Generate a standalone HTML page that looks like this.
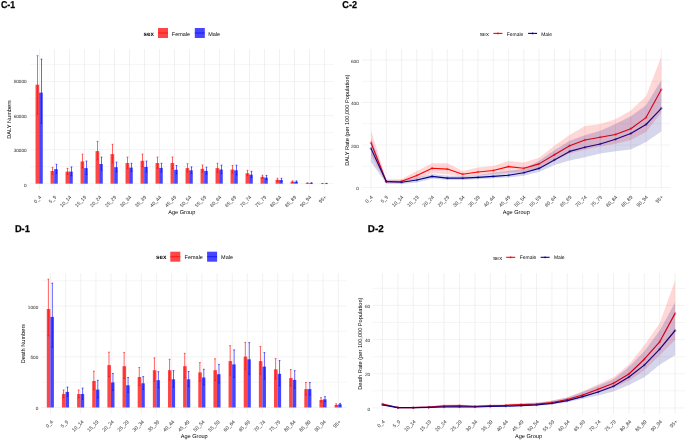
<!DOCTYPE html>
<html><head><meta charset="utf-8"><title>Age group DALY and death charts</title>
<style>
html,body{margin:0;padding:0;background:#fff;}
body{width:685px;height:440px;overflow:hidden;}
svg{display:block;will-change:transform;text-rendering:geometricPrecision;font-family:"Liberation Sans",sans-serif;}
text.s{stroke:#444;stroke-width:0.04px;}
</style></head><body>
<svg width="685" height="440" viewBox="0 0 685 440">
<rect width="685" height="440" fill="#fff"/>
<text x="0.9" y="8.0" font-size="10" font-weight="bold" fill="#000" stroke="#000" stroke-width="0.25" textLength="14.2" lengthAdjust="spacingAndGlyphs">C-1</text>
<line x1="30.2" x2="333.6" y1="166.67" y2="166.67" stroke="#f1f1f1" stroke-width="0.7"/>
<line x1="30.2" x2="333.6" y1="132.61" y2="132.61" stroke="#f1f1f1" stroke-width="0.7"/>
<line x1="30.2" x2="333.6" y1="98.55" y2="98.55" stroke="#f1f1f1" stroke-width="0.7"/>
<line x1="30.2" x2="333.6" y1="64.49" y2="64.49" stroke="#f1f1f1" stroke-width="0.7"/>
<line x1="30.2" x2="333.6" y1="183.70" y2="183.70" stroke="#f0f0f0" stroke-width="0.8"/>
<line x1="30.2" x2="333.6" y1="149.64" y2="149.64" stroke="#f0f0f0" stroke-width="0.8"/>
<line x1="30.2" x2="333.6" y1="115.58" y2="115.58" stroke="#f0f0f0" stroke-width="0.8"/>
<line x1="30.2" x2="333.6" y1="81.52" y2="81.52" stroke="#f0f0f0" stroke-width="0.8"/>
<line x1="39.50" x2="39.50" y1="49" y2="190.2" stroke="#eeeeee" stroke-width="0.8"/>
<line x1="54.50" x2="54.50" y1="49" y2="190.2" stroke="#eeeeee" stroke-width="0.8"/>
<line x1="69.50" x2="69.50" y1="49" y2="190.2" stroke="#eeeeee" stroke-width="0.8"/>
<line x1="84.50" x2="84.50" y1="49" y2="190.2" stroke="#eeeeee" stroke-width="0.8"/>
<line x1="99.50" x2="99.50" y1="49" y2="190.2" stroke="#eeeeee" stroke-width="0.8"/>
<line x1="114.50" x2="114.50" y1="49" y2="190.2" stroke="#eeeeee" stroke-width="0.8"/>
<line x1="129.50" x2="129.50" y1="49" y2="190.2" stroke="#eeeeee" stroke-width="0.8"/>
<line x1="144.50" x2="144.50" y1="49" y2="190.2" stroke="#eeeeee" stroke-width="0.8"/>
<line x1="159.50" x2="159.50" y1="49" y2="190.2" stroke="#eeeeee" stroke-width="0.8"/>
<line x1="174.50" x2="174.50" y1="49" y2="190.2" stroke="#eeeeee" stroke-width="0.8"/>
<line x1="189.50" x2="189.50" y1="49" y2="190.2" stroke="#eeeeee" stroke-width="0.8"/>
<line x1="204.50" x2="204.50" y1="49" y2="190.2" stroke="#eeeeee" stroke-width="0.8"/>
<line x1="219.50" x2="219.50" y1="49" y2="190.2" stroke="#eeeeee" stroke-width="0.8"/>
<line x1="234.50" x2="234.50" y1="49" y2="190.2" stroke="#eeeeee" stroke-width="0.8"/>
<line x1="249.50" x2="249.50" y1="49" y2="190.2" stroke="#eeeeee" stroke-width="0.8"/>
<line x1="264.50" x2="264.50" y1="49" y2="190.2" stroke="#eeeeee" stroke-width="0.8"/>
<line x1="279.50" x2="279.50" y1="49" y2="190.2" stroke="#eeeeee" stroke-width="0.8"/>
<line x1="294.50" x2="294.50" y1="49" y2="190.2" stroke="#eeeeee" stroke-width="0.8"/>
<line x1="309.50" x2="309.50" y1="49" y2="190.2" stroke="#eeeeee" stroke-width="0.8"/>
<line x1="324.50" x2="324.50" y1="49" y2="190.2" stroke="#eeeeee" stroke-width="0.8"/>
<rect x="35.53" y="84.70" width="3.62" height="99.00" fill="#ff4646"/>
<rect x="39.15" y="92.60" width="3.62" height="91.10" fill="#4646ff"/>
<rect x="50.53" y="171.00" width="3.62" height="12.70" fill="#ff4646"/>
<rect x="54.15" y="169.10" width="3.62" height="14.60" fill="#4646ff"/>
<rect x="65.53" y="171.60" width="3.62" height="12.10" fill="#ff4646"/>
<rect x="69.15" y="171.60" width="3.62" height="12.10" fill="#4646ff"/>
<rect x="80.53" y="161.40" width="3.62" height="22.30" fill="#ff4646"/>
<rect x="84.15" y="168.10" width="3.62" height="15.60" fill="#4646ff"/>
<rect x="95.53" y="151.10" width="3.62" height="32.60" fill="#ff4646"/>
<rect x="99.15" y="164.00" width="3.62" height="19.70" fill="#4646ff"/>
<rect x="110.53" y="154.10" width="3.62" height="29.60" fill="#ff4646"/>
<rect x="114.15" y="167.20" width="3.62" height="16.50" fill="#4646ff"/>
<rect x="125.53" y="163.00" width="3.62" height="20.70" fill="#ff4646"/>
<rect x="129.15" y="167.60" width="3.62" height="16.10" fill="#4646ff"/>
<rect x="140.53" y="160.80" width="3.62" height="22.90" fill="#ff4646"/>
<rect x="144.15" y="166.90" width="3.62" height="16.80" fill="#4646ff"/>
<rect x="155.53" y="163.00" width="3.62" height="20.70" fill="#ff4646"/>
<rect x="159.15" y="167.90" width="3.62" height="15.80" fill="#4646ff"/>
<rect x="170.53" y="163.00" width="3.62" height="20.70" fill="#ff4646"/>
<rect x="174.15" y="169.80" width="3.62" height="13.90" fill="#4646ff"/>
<rect x="185.53" y="168.10" width="3.62" height="15.60" fill="#ff4646"/>
<rect x="189.15" y="170.30" width="3.62" height="13.40" fill="#4646ff"/>
<rect x="200.53" y="168.80" width="3.62" height="14.90" fill="#ff4646"/>
<rect x="204.15" y="170.90" width="3.62" height="12.80" fill="#4646ff"/>
<rect x="215.53" y="168.10" width="3.62" height="15.60" fill="#ff4646"/>
<rect x="219.15" y="169.50" width="3.62" height="14.20" fill="#4646ff"/>
<rect x="230.53" y="169.50" width="3.62" height="14.20" fill="#ff4646"/>
<rect x="234.15" y="170.30" width="3.62" height="13.40" fill="#4646ff"/>
<rect x="245.53" y="173.20" width="3.62" height="10.50" fill="#ff4646"/>
<rect x="249.15" y="174.65" width="3.62" height="9.05" fill="#4646ff"/>
<rect x="260.53" y="176.80" width="3.62" height="6.90" fill="#ff4646"/>
<rect x="264.15" y="177.60" width="3.62" height="6.10" fill="#4646ff"/>
<rect x="275.53" y="179.80" width="3.62" height="3.90" fill="#ff4646"/>
<rect x="279.15" y="180.05" width="3.62" height="3.65" fill="#4646ff"/>
<rect x="290.53" y="181.70" width="3.62" height="2.00" fill="#ff4646"/>
<rect x="294.15" y="181.70" width="3.62" height="2.00" fill="#4646ff"/>
<rect x="305.53" y="183.10" width="3.62" height="0.60" fill="#ff4646"/>
<rect x="309.15" y="183.00" width="3.62" height="0.70" fill="#4646ff"/>
<rect x="320.53" y="183.50" width="3.62" height="0.20" fill="#ff4646"/>
<rect x="324.15" y="183.50" width="3.62" height="0.20" fill="#4646ff"/>
<line x1="37.50" x2="37.50" y1="55.70" y2="114.10" stroke="#ff1010" stroke-width="0.65"/>
<line x1="36.60" x2="38.40" y1="55.70" y2="55.70" stroke="#ff1010" stroke-width="0.65"/>
<line x1="36.60" x2="38.40" y1="114.10" y2="114.10" stroke="#e00000" stroke-width="0.5"/>
<line x1="41.50" x2="41.50" y1="59.10" y2="123.30" stroke="#1010ff" stroke-width="0.65"/>
<line x1="40.60" x2="42.40" y1="59.10" y2="59.10" stroke="#1010ff" stroke-width="0.65"/>
<line x1="40.60" x2="42.40" y1="123.30" y2="123.30" stroke="#0000e0" stroke-width="0.5"/>
<line x1="52.50" x2="52.50" y1="167.35" y2="174.28" stroke="#ff1010" stroke-width="0.65"/>
<line x1="51.60" x2="53.40" y1="167.35" y2="167.35" stroke="#ff1010" stroke-width="0.65"/>
<line x1="51.60" x2="53.40" y1="174.28" y2="174.28" stroke="#e00000" stroke-width="0.5"/>
<line x1="56.50" x2="56.50" y1="164.30" y2="173.42" stroke="#1010ff" stroke-width="0.65"/>
<line x1="55.60" x2="57.40" y1="164.30" y2="164.30" stroke="#1010ff" stroke-width="0.65"/>
<line x1="55.60" x2="57.40" y1="173.42" y2="173.42" stroke="#0000e0" stroke-width="0.5"/>
<line x1="67.50" x2="67.50" y1="168.40" y2="174.48" stroke="#ff1010" stroke-width="0.65"/>
<line x1="66.60" x2="68.40" y1="168.40" y2="168.40" stroke="#ff1010" stroke-width="0.65"/>
<line x1="66.60" x2="68.40" y1="174.48" y2="174.48" stroke="#e00000" stroke-width="0.5"/>
<line x1="71.50" x2="71.50" y1="166.90" y2="175.83" stroke="#1010ff" stroke-width="0.65"/>
<line x1="70.60" x2="72.40" y1="166.90" y2="166.90" stroke="#1010ff" stroke-width="0.65"/>
<line x1="70.60" x2="72.40" y1="175.83" y2="175.83" stroke="#0000e0" stroke-width="0.5"/>
<line x1="82.50" x2="82.50" y1="154.20" y2="167.88" stroke="#ff1010" stroke-width="0.65"/>
<line x1="81.60" x2="83.40" y1="154.20" y2="154.20" stroke="#ff1010" stroke-width="0.65"/>
<line x1="81.60" x2="83.40" y1="167.88" y2="167.88" stroke="#e00000" stroke-width="0.5"/>
<line x1="86.50" x2="86.50" y1="161.10" y2="174.40" stroke="#1010ff" stroke-width="0.65"/>
<line x1="85.60" x2="87.40" y1="161.10" y2="161.10" stroke="#1010ff" stroke-width="0.65"/>
<line x1="85.60" x2="87.40" y1="174.40" y2="174.40" stroke="#0000e0" stroke-width="0.5"/>
<line x1="97.50" x2="97.50" y1="141.40" y2="159.83" stroke="#ff1010" stroke-width="0.65"/>
<line x1="96.60" x2="98.40" y1="141.40" y2="141.40" stroke="#ff1010" stroke-width="0.65"/>
<line x1="96.60" x2="98.40" y1="159.83" y2="159.83" stroke="#e00000" stroke-width="0.5"/>
<line x1="101.50" x2="101.50" y1="157.10" y2="170.21" stroke="#1010ff" stroke-width="0.65"/>
<line x1="100.60" x2="102.40" y1="157.10" y2="157.10" stroke="#1010ff" stroke-width="0.65"/>
<line x1="100.60" x2="102.40" y1="170.21" y2="170.21" stroke="#0000e0" stroke-width="0.5"/>
<line x1="112.50" x2="112.50" y1="144.30" y2="162.92" stroke="#ff1010" stroke-width="0.65"/>
<line x1="111.60" x2="113.40" y1="144.30" y2="144.30" stroke="#ff1010" stroke-width="0.65"/>
<line x1="111.60" x2="113.40" y1="162.92" y2="162.92" stroke="#e00000" stroke-width="0.5"/>
<line x1="116.50" x2="116.50" y1="162.10" y2="171.79" stroke="#1010ff" stroke-width="0.65"/>
<line x1="115.60" x2="117.40" y1="162.10" y2="162.10" stroke="#1010ff" stroke-width="0.65"/>
<line x1="115.60" x2="117.40" y1="171.79" y2="171.79" stroke="#0000e0" stroke-width="0.5"/>
<line x1="127.50" x2="127.50" y1="157.10" y2="168.31" stroke="#ff1010" stroke-width="0.65"/>
<line x1="126.60" x2="128.40" y1="157.10" y2="157.10" stroke="#ff1010" stroke-width="0.65"/>
<line x1="126.60" x2="128.40" y1="168.31" y2="168.31" stroke="#e00000" stroke-width="0.5"/>
<line x1="131.50" x2="131.50" y1="163.30" y2="171.47" stroke="#1010ff" stroke-width="0.65"/>
<line x1="130.60" x2="132.40" y1="163.30" y2="163.30" stroke="#1010ff" stroke-width="0.65"/>
<line x1="130.60" x2="132.40" y1="171.47" y2="171.47" stroke="#0000e0" stroke-width="0.5"/>
<line x1="142.50" x2="142.50" y1="154.10" y2="166.83" stroke="#ff1010" stroke-width="0.65"/>
<line x1="141.60" x2="143.40" y1="154.10" y2="154.10" stroke="#ff1010" stroke-width="0.65"/>
<line x1="141.60" x2="143.40" y1="166.83" y2="166.83" stroke="#e00000" stroke-width="0.5"/>
<line x1="146.50" x2="146.50" y1="161.10" y2="172.12" stroke="#1010ff" stroke-width="0.65"/>
<line x1="145.60" x2="147.40" y1="161.10" y2="161.10" stroke="#1010ff" stroke-width="0.65"/>
<line x1="145.60" x2="147.40" y1="172.12" y2="172.12" stroke="#0000e0" stroke-width="0.5"/>
<line x1="157.50" x2="157.50" y1="157.10" y2="168.31" stroke="#ff1010" stroke-width="0.65"/>
<line x1="156.60" x2="158.40" y1="157.10" y2="157.10" stroke="#ff1010" stroke-width="0.65"/>
<line x1="156.60" x2="158.40" y1="168.31" y2="168.31" stroke="#e00000" stroke-width="0.5"/>
<line x1="161.50" x2="161.50" y1="163.30" y2="172.04" stroke="#1010ff" stroke-width="0.65"/>
<line x1="160.60" x2="162.40" y1="163.30" y2="163.30" stroke="#1010ff" stroke-width="0.65"/>
<line x1="160.60" x2="162.40" y1="172.04" y2="172.04" stroke="#0000e0" stroke-width="0.5"/>
<line x1="172.50" x2="172.50" y1="157.00" y2="168.40" stroke="#ff1010" stroke-width="0.65"/>
<line x1="171.60" x2="173.40" y1="157.00" y2="157.00" stroke="#ff1010" stroke-width="0.65"/>
<line x1="171.60" x2="173.40" y1="168.40" y2="168.40" stroke="#e00000" stroke-width="0.5"/>
<line x1="176.50" x2="176.50" y1="165.50" y2="173.67" stroke="#1010ff" stroke-width="0.65"/>
<line x1="175.60" x2="177.40" y1="165.50" y2="165.50" stroke="#1010ff" stroke-width="0.65"/>
<line x1="175.60" x2="177.40" y1="173.67" y2="173.67" stroke="#0000e0" stroke-width="0.5"/>
<line x1="187.50" x2="187.50" y1="163.70" y2="172.06" stroke="#ff1010" stroke-width="0.65"/>
<line x1="186.60" x2="188.40" y1="163.70" y2="163.70" stroke="#ff1010" stroke-width="0.65"/>
<line x1="186.60" x2="188.40" y1="172.06" y2="172.06" stroke="#e00000" stroke-width="0.5"/>
<line x1="191.50" x2="191.50" y1="166.90" y2="173.36" stroke="#1010ff" stroke-width="0.65"/>
<line x1="190.60" x2="192.40" y1="166.90" y2="166.90" stroke="#1010ff" stroke-width="0.65"/>
<line x1="190.60" x2="192.40" y1="173.36" y2="173.36" stroke="#0000e0" stroke-width="0.5"/>
<line x1="202.50" x2="202.50" y1="165.00" y2="172.22" stroke="#ff1010" stroke-width="0.65"/>
<line x1="201.60" x2="203.40" y1="165.00" y2="165.00" stroke="#ff1010" stroke-width="0.65"/>
<line x1="201.60" x2="203.40" y1="172.22" y2="172.22" stroke="#e00000" stroke-width="0.5"/>
<line x1="206.50" x2="206.50" y1="167.20" y2="174.23" stroke="#1010ff" stroke-width="0.65"/>
<line x1="205.60" x2="207.40" y1="167.20" y2="167.20" stroke="#1010ff" stroke-width="0.65"/>
<line x1="205.60" x2="207.40" y1="174.23" y2="174.23" stroke="#0000e0" stroke-width="0.5"/>
<line x1="217.50" x2="217.50" y1="163.30" y2="172.42" stroke="#ff1010" stroke-width="0.65"/>
<line x1="216.60" x2="218.40" y1="163.30" y2="163.30" stroke="#ff1010" stroke-width="0.65"/>
<line x1="216.60" x2="218.40" y1="172.42" y2="172.42" stroke="#e00000" stroke-width="0.5"/>
<line x1="221.50" x2="221.50" y1="165.20" y2="173.37" stroke="#1010ff" stroke-width="0.65"/>
<line x1="220.60" x2="222.40" y1="165.20" y2="165.20" stroke="#1010ff" stroke-width="0.65"/>
<line x1="220.60" x2="222.40" y1="173.37" y2="173.37" stroke="#0000e0" stroke-width="0.5"/>
<line x1="232.50" x2="232.50" y1="165.50" y2="173.10" stroke="#ff1010" stroke-width="0.65"/>
<line x1="231.60" x2="233.40" y1="165.50" y2="165.50" stroke="#ff1010" stroke-width="0.65"/>
<line x1="231.60" x2="233.40" y1="173.10" y2="173.10" stroke="#e00000" stroke-width="0.5"/>
<line x1="236.50" x2="236.50" y1="165.20" y2="174.89" stroke="#1010ff" stroke-width="0.65"/>
<line x1="235.60" x2="237.40" y1="165.20" y2="165.20" stroke="#1010ff" stroke-width="0.65"/>
<line x1="235.60" x2="237.40" y1="174.89" y2="174.89" stroke="#0000e0" stroke-width="0.5"/>
<line x1="247.50" x2="247.50" y1="170.30" y2="175.81" stroke="#ff1010" stroke-width="0.65"/>
<line x1="246.60" x2="248.40" y1="170.30" y2="170.30" stroke="#ff1010" stroke-width="0.65"/>
<line x1="246.60" x2="248.40" y1="175.81" y2="175.81" stroke="#e00000" stroke-width="0.5"/>
<line x1="251.50" x2="251.50" y1="171.30" y2="177.66" stroke="#1010ff" stroke-width="0.65"/>
<line x1="250.60" x2="252.40" y1="171.30" y2="171.30" stroke="#1010ff" stroke-width="0.65"/>
<line x1="250.60" x2="252.40" y1="177.66" y2="177.66" stroke="#0000e0" stroke-width="0.5"/>
<line x1="262.50" x2="262.50" y1="175.20" y2="178.24" stroke="#ff1010" stroke-width="0.65"/>
<line x1="261.60" x2="263.40" y1="175.20" y2="175.20" stroke="#ff1010" stroke-width="0.65"/>
<line x1="261.60" x2="263.40" y1="178.24" y2="178.24" stroke="#e00000" stroke-width="0.5"/>
<line x1="266.50" x2="266.50" y1="175.40" y2="179.58" stroke="#1010ff" stroke-width="0.65"/>
<line x1="265.60" x2="267.40" y1="175.40" y2="175.40" stroke="#1010ff" stroke-width="0.65"/>
<line x1="265.60" x2="267.40" y1="179.58" y2="179.58" stroke="#0000e0" stroke-width="0.5"/>
<line x1="277.50" x2="277.50" y1="178.30" y2="181.15" stroke="#ff1010" stroke-width="0.65"/>
<line x1="276.60" x2="278.40" y1="178.30" y2="178.30" stroke="#ff1010" stroke-width="0.65"/>
<line x1="276.60" x2="278.40" y1="181.15" y2="181.15" stroke="#e00000" stroke-width="0.5"/>
<line x1="281.50" x2="281.50" y1="178.30" y2="181.62" stroke="#1010ff" stroke-width="0.65"/>
<line x1="280.60" x2="282.40" y1="178.30" y2="178.30" stroke="#1010ff" stroke-width="0.65"/>
<line x1="280.60" x2="282.40" y1="181.62" y2="181.62" stroke="#0000e0" stroke-width="0.5"/>
<line x1="292.50" x2="292.50" y1="180.90" y2="182.42" stroke="#ff1010" stroke-width="0.65"/>
<line x1="291.60" x2="293.40" y1="180.90" y2="180.90" stroke="#ff1010" stroke-width="0.65"/>
<line x1="291.60" x2="293.40" y1="182.42" y2="182.42" stroke="#e00000" stroke-width="0.5"/>
<line x1="296.50" x2="296.50" y1="180.90" y2="182.42" stroke="#1010ff" stroke-width="0.65"/>
<line x1="295.60" x2="297.40" y1="180.90" y2="180.90" stroke="#1010ff" stroke-width="0.65"/>
<line x1="295.60" x2="297.40" y1="182.42" y2="182.42" stroke="#0000e0" stroke-width="0.5"/>
<line x1="307.50" x2="307.50" y1="182.80" y2="183.37" stroke="#ff1010" stroke-width="0.65"/>
<line x1="306.60" x2="308.40" y1="182.80" y2="182.80" stroke="#ff1010" stroke-width="0.65"/>
<line x1="306.60" x2="308.40" y1="183.37" y2="183.37" stroke="#e00000" stroke-width="0.5"/>
<line x1="311.50" x2="311.50" y1="182.70" y2="183.27" stroke="#1010ff" stroke-width="0.65"/>
<line x1="310.60" x2="312.40" y1="182.70" y2="182.70" stroke="#1010ff" stroke-width="0.65"/>
<line x1="310.60" x2="312.40" y1="183.27" y2="183.27" stroke="#0000e0" stroke-width="0.5"/>
<line x1="322.50" x2="322.50" y1="183.40" y2="183.59" stroke="#ff1010" stroke-width="0.65"/>
<line x1="321.60" x2="323.40" y1="183.40" y2="183.40" stroke="#ff1010" stroke-width="0.65"/>
<line x1="321.60" x2="323.40" y1="183.59" y2="183.59" stroke="#e00000" stroke-width="0.5"/>
<line x1="326.50" x2="326.50" y1="183.40" y2="183.59" stroke="#1010ff" stroke-width="0.65"/>
<line x1="325.60" x2="327.40" y1="183.40" y2="183.40" stroke="#1010ff" stroke-width="0.65"/>
<line x1="325.60" x2="327.40" y1="183.59" y2="183.59" stroke="#0000e0" stroke-width="0.5"/>
<text x="26.7" y="186.59" class="s" font-size="4.7" fill="#444444" text-anchor="end">0</text>
<text x="26.7" y="152.19" class="s" font-size="4.7" fill="#444444" text-anchor="end">30000</text>
<text x="26.7" y="117.79" class="s" font-size="4.7" fill="#444444" text-anchor="end">60000</text>
<text x="26.7" y="83.39" class="s" font-size="4.7" fill="#444444" text-anchor="end">90000</text>
<text transform="translate(39.50,195.3) rotate(-45)" class="s" font-size="5.0" fill="#444444" text-anchor="end" dominant-baseline="hanging">0_4</text>
<text transform="translate(54.50,195.3) rotate(-45)" class="s" font-size="5.0" fill="#444444" text-anchor="end" dominant-baseline="hanging">5_9</text>
<text transform="translate(69.50,195.3) rotate(-45)" class="s" font-size="5.0" fill="#444444" text-anchor="end" dominant-baseline="hanging">10_14</text>
<text transform="translate(84.50,195.3) rotate(-45)" class="s" font-size="5.0" fill="#444444" text-anchor="end" dominant-baseline="hanging">15_19</text>
<text transform="translate(99.50,195.3) rotate(-45)" class="s" font-size="5.0" fill="#444444" text-anchor="end" dominant-baseline="hanging">20_24</text>
<text transform="translate(114.50,195.3) rotate(-45)" class="s" font-size="5.0" fill="#444444" text-anchor="end" dominant-baseline="hanging">25_29</text>
<text transform="translate(129.50,195.3) rotate(-45)" class="s" font-size="5.0" fill="#444444" text-anchor="end" dominant-baseline="hanging">30_34</text>
<text transform="translate(144.50,195.3) rotate(-45)" class="s" font-size="5.0" fill="#444444" text-anchor="end" dominant-baseline="hanging">35_39</text>
<text transform="translate(159.50,195.3) rotate(-45)" class="s" font-size="5.0" fill="#444444" text-anchor="end" dominant-baseline="hanging">40_44</text>
<text transform="translate(174.50,195.3) rotate(-45)" class="s" font-size="5.0" fill="#444444" text-anchor="end" dominant-baseline="hanging">45_49</text>
<text transform="translate(189.50,195.3) rotate(-45)" class="s" font-size="5.0" fill="#444444" text-anchor="end" dominant-baseline="hanging">50_54</text>
<text transform="translate(204.50,195.3) rotate(-45)" class="s" font-size="5.0" fill="#444444" text-anchor="end" dominant-baseline="hanging">55_59</text>
<text transform="translate(219.50,195.3) rotate(-45)" class="s" font-size="5.0" fill="#444444" text-anchor="end" dominant-baseline="hanging">60_64</text>
<text transform="translate(234.50,195.3) rotate(-45)" class="s" font-size="5.0" fill="#444444" text-anchor="end" dominant-baseline="hanging">65_69</text>
<text transform="translate(249.50,195.3) rotate(-45)" class="s" font-size="5.0" fill="#444444" text-anchor="end" dominant-baseline="hanging">70_74</text>
<text transform="translate(264.50,195.3) rotate(-45)" class="s" font-size="5.0" fill="#444444" text-anchor="end" dominant-baseline="hanging">75_79</text>
<text transform="translate(279.50,195.3) rotate(-45)" class="s" font-size="5.0" fill="#444444" text-anchor="end" dominant-baseline="hanging">80_84</text>
<text transform="translate(294.50,195.3) rotate(-45)" class="s" font-size="5.0" fill="#444444" text-anchor="end" dominant-baseline="hanging">85_89</text>
<text transform="translate(309.50,195.3) rotate(-45)" class="s" font-size="5.0" fill="#444444" text-anchor="end" dominant-baseline="hanging">90_94</text>
<text transform="translate(324.50,195.3) rotate(-45)" class="s" font-size="5.0" fill="#444444" text-anchor="end" dominant-baseline="hanging">95+</text>
<text transform="translate(11.3,119.5) rotate(-90)" class="t" font-size="5.65" fill="#0a0a0a" text-anchor="middle">DALY Numbers</text>
<text x="181.8" y="213.9" class="t" font-size="5.6" fill="#0a0a0a" text-anchor="middle">Age Group</text>
<text x="143.6" y="35.68" font-size="6.2" font-weight="bold" fill="#0a0a0a">sex</text>
<rect x="158" y="28" width="10" height="10" fill="#ff4646"/>
<line x1="158" x2="168" y1="33" y2="33" stroke="#f01010" stroke-width="0.8"/>
<text x="171.8" y="35.68" font-size="5.5" fill="#0a0a0a">Female</text>
<rect x="194.8" y="28" width="10" height="10" fill="#4646ff"/>
<line x1="194.8" x2="204.8" y1="33" y2="33" stroke="#1010f0" stroke-width="0.8"/>
<text x="208.2" y="35.68" font-size="5.5" fill="#0a0a0a">Male</text>
<text x="342.3" y="8.0" font-size="10" font-weight="bold" fill="#000" stroke="#000" stroke-width="0.25" textLength="14.7" lengthAdjust="spacingAndGlyphs">C-2</text>
<line x1="362" x2="670.6" y1="166.21" y2="166.21" stroke="#f1f1f1" stroke-width="0.7"/>
<line x1="362" x2="670.6" y1="123.73" y2="123.73" stroke="#f1f1f1" stroke-width="0.7"/>
<line x1="362" x2="670.6" y1="81.25" y2="81.25" stroke="#f1f1f1" stroke-width="0.7"/>
<line x1="362" x2="670.6" y1="187.45" y2="187.45" stroke="#f0f0f0" stroke-width="0.8"/>
<line x1="362" x2="670.6" y1="144.97" y2="144.97" stroke="#f0f0f0" stroke-width="0.8"/>
<line x1="362" x2="670.6" y1="102.49" y2="102.49" stroke="#f0f0f0" stroke-width="0.8"/>
<line x1="362" x2="670.6" y1="60.01" y2="60.01" stroke="#f0f0f0" stroke-width="0.8"/>
<line x1="371.00" x2="371.00" y1="49" y2="189.9" stroke="#eeeeee" stroke-width="0.8"/>
<line x1="386.28" x2="386.28" y1="49" y2="189.9" stroke="#eeeeee" stroke-width="0.8"/>
<line x1="401.56" x2="401.56" y1="49" y2="189.9" stroke="#eeeeee" stroke-width="0.8"/>
<line x1="416.84" x2="416.84" y1="49" y2="189.9" stroke="#eeeeee" stroke-width="0.8"/>
<line x1="432.12" x2="432.12" y1="49" y2="189.9" stroke="#eeeeee" stroke-width="0.8"/>
<line x1="447.40" x2="447.40" y1="49" y2="189.9" stroke="#eeeeee" stroke-width="0.8"/>
<line x1="462.68" x2="462.68" y1="49" y2="189.9" stroke="#eeeeee" stroke-width="0.8"/>
<line x1="477.96" x2="477.96" y1="49" y2="189.9" stroke="#eeeeee" stroke-width="0.8"/>
<line x1="493.24" x2="493.24" y1="49" y2="189.9" stroke="#eeeeee" stroke-width="0.8"/>
<line x1="508.52" x2="508.52" y1="49" y2="189.9" stroke="#eeeeee" stroke-width="0.8"/>
<line x1="523.80" x2="523.80" y1="49" y2="189.9" stroke="#eeeeee" stroke-width="0.8"/>
<line x1="539.08" x2="539.08" y1="49" y2="189.9" stroke="#eeeeee" stroke-width="0.8"/>
<line x1="554.36" x2="554.36" y1="49" y2="189.9" stroke="#eeeeee" stroke-width="0.8"/>
<line x1="569.64" x2="569.64" y1="49" y2="189.9" stroke="#eeeeee" stroke-width="0.8"/>
<line x1="584.92" x2="584.92" y1="49" y2="189.9" stroke="#eeeeee" stroke-width="0.8"/>
<line x1="600.20" x2="600.20" y1="49" y2="189.9" stroke="#eeeeee" stroke-width="0.8"/>
<line x1="615.48" x2="615.48" y1="49" y2="189.9" stroke="#eeeeee" stroke-width="0.8"/>
<line x1="630.76" x2="630.76" y1="49" y2="189.9" stroke="#eeeeee" stroke-width="0.8"/>
<line x1="646.04" x2="646.04" y1="49" y2="189.9" stroke="#eeeeee" stroke-width="0.8"/>
<line x1="661.32" x2="661.32" y1="49" y2="189.9" stroke="#eeeeee" stroke-width="0.8"/>
<polyline points="371.00,142.80 386.28,181.50 401.56,181.20 416.84,175.60 432.12,168.30 447.40,169.10 462.68,174.20 477.96,172.00 493.24,170.50 508.52,166.60 523.80,168.20 539.08,163.90 554.36,154.80 569.64,145.70 584.92,140.00 600.20,137.30 615.48,134.50 630.76,128.70 646.04,117.60 661.32,89.50" fill="none" stroke="#ff0000" stroke-width="1.1" stroke-linejoin="round"/>
<polyline points="371.00,148.60 386.28,181.60 401.56,182.30 416.84,180.00 432.12,176.40 447.40,178.10 462.68,178.10 477.96,177.40 493.24,176.40 508.52,175.20 523.80,172.80 539.08,168.40 554.36,160.00 569.64,151.40 584.92,147.30 600.20,144.00 615.48,139.30 630.76,133.50 646.04,124.50 661.32,108.30" fill="none" stroke="#00008b" stroke-width="1.1" stroke-linejoin="round"/>
<polygon points="371.00,130.40 386.28,179.50 401.56,179.00 416.84,171.00 432.12,163.20 447.40,163.20 462.68,171.00 477.96,167.60 493.24,166.10 508.52,161.00 523.80,162.60 539.08,157.70 554.36,145.70 569.64,135.00 584.92,125.90 600.20,124.10 615.48,119.30 630.76,110.40 646.04,96.20 661.32,56.50 661.32,112.60 646.04,132.00 630.76,140.10 615.48,143.80 600.20,146.60 584.92,149.80 569.64,153.60 554.36,160.80 539.08,168.20 523.80,172.60 508.52,172.40 493.24,174.10 477.96,175.60 462.68,176.80 447.40,174.20 432.12,173.20 416.84,178.70 401.56,183.00 386.28,183.50 371.00,155.00" fill="rgba(255,0,0,0.155)"/>
<polygon points="371.00,138.40 386.28,179.80 401.56,180.50 416.84,177.50 432.12,173.90 447.40,175.60 462.68,175.90 477.96,175.30 493.24,172.80 508.52,170.80 523.80,169.00 539.08,160.80 554.36,150.20 569.64,140.70 584.92,135.20 600.20,130.80 615.48,124.00 630.76,116.30 646.04,105.20 661.32,80.20 661.32,131.40 646.04,142.00 630.76,149.50 615.48,151.20 600.20,153.50 584.92,157.20 569.64,160.60 554.36,165.00 539.08,172.00 523.80,175.70 508.52,177.50 493.24,178.20 477.96,179.30 462.68,180.00 447.40,180.00 432.12,178.80 416.84,182.50 401.56,184.00 386.28,183.50 371.00,162.00" fill="rgba(0,0,139,0.165)"/>
<circle cx="371.00" cy="142.80" r="1.0" fill="#ff0000" fill-opacity="0.3" stroke="#ff0000" stroke-width="0.45" stroke-opacity="0.55"/>
<circle cx="386.28" cy="181.50" r="1.0" fill="#ff0000" fill-opacity="0.3" stroke="#ff0000" stroke-width="0.45" stroke-opacity="0.55"/>
<circle cx="401.56" cy="181.20" r="1.0" fill="#ff0000" fill-opacity="0.3" stroke="#ff0000" stroke-width="0.45" stroke-opacity="0.55"/>
<circle cx="416.84" cy="175.60" r="1.0" fill="#ff0000" fill-opacity="0.3" stroke="#ff0000" stroke-width="0.45" stroke-opacity="0.55"/>
<circle cx="432.12" cy="168.30" r="1.0" fill="#ff0000" fill-opacity="0.3" stroke="#ff0000" stroke-width="0.45" stroke-opacity="0.55"/>
<circle cx="447.40" cy="169.10" r="1.0" fill="#ff0000" fill-opacity="0.3" stroke="#ff0000" stroke-width="0.45" stroke-opacity="0.55"/>
<circle cx="462.68" cy="174.20" r="1.0" fill="#ff0000" fill-opacity="0.3" stroke="#ff0000" stroke-width="0.45" stroke-opacity="0.55"/>
<circle cx="477.96" cy="172.00" r="1.0" fill="#ff0000" fill-opacity="0.3" stroke="#ff0000" stroke-width="0.45" stroke-opacity="0.55"/>
<circle cx="493.24" cy="170.50" r="1.0" fill="#ff0000" fill-opacity="0.3" stroke="#ff0000" stroke-width="0.45" stroke-opacity="0.55"/>
<circle cx="508.52" cy="166.60" r="1.0" fill="#ff0000" fill-opacity="0.3" stroke="#ff0000" stroke-width="0.45" stroke-opacity="0.55"/>
<circle cx="523.80" cy="168.20" r="1.0" fill="#ff0000" fill-opacity="0.3" stroke="#ff0000" stroke-width="0.45" stroke-opacity="0.55"/>
<circle cx="539.08" cy="163.90" r="1.0" fill="#ff0000" fill-opacity="0.3" stroke="#ff0000" stroke-width="0.45" stroke-opacity="0.55"/>
<circle cx="554.36" cy="154.80" r="1.0" fill="#ff0000" fill-opacity="0.3" stroke="#ff0000" stroke-width="0.45" stroke-opacity="0.55"/>
<circle cx="569.64" cy="145.70" r="1.0" fill="#ff0000" fill-opacity="0.3" stroke="#ff0000" stroke-width="0.45" stroke-opacity="0.55"/>
<circle cx="584.92" cy="140.00" r="1.0" fill="#ff0000" fill-opacity="0.3" stroke="#ff0000" stroke-width="0.45" stroke-opacity="0.55"/>
<circle cx="600.20" cy="137.30" r="1.0" fill="#ff0000" fill-opacity="0.3" stroke="#ff0000" stroke-width="0.45" stroke-opacity="0.55"/>
<circle cx="615.48" cy="134.50" r="1.0" fill="#ff0000" fill-opacity="0.3" stroke="#ff0000" stroke-width="0.45" stroke-opacity="0.55"/>
<circle cx="630.76" cy="128.70" r="1.0" fill="#ff0000" fill-opacity="0.3" stroke="#ff0000" stroke-width="0.45" stroke-opacity="0.55"/>
<circle cx="646.04" cy="117.60" r="1.0" fill="#ff0000" fill-opacity="0.3" stroke="#ff0000" stroke-width="0.45" stroke-opacity="0.55"/>
<circle cx="661.32" cy="89.50" r="1.0" fill="#ff0000" fill-opacity="0.3" stroke="#ff0000" stroke-width="0.45" stroke-opacity="0.55"/>
<circle cx="371.00" cy="148.60" r="1.0" fill="#00008b" fill-opacity="0.3" stroke="#00008b" stroke-width="0.45" stroke-opacity="0.55"/>
<circle cx="386.28" cy="181.60" r="1.0" fill="#00008b" fill-opacity="0.3" stroke="#00008b" stroke-width="0.45" stroke-opacity="0.55"/>
<circle cx="401.56" cy="182.30" r="1.0" fill="#00008b" fill-opacity="0.3" stroke="#00008b" stroke-width="0.45" stroke-opacity="0.55"/>
<circle cx="416.84" cy="180.00" r="1.0" fill="#00008b" fill-opacity="0.3" stroke="#00008b" stroke-width="0.45" stroke-opacity="0.55"/>
<circle cx="432.12" cy="176.40" r="1.0" fill="#00008b" fill-opacity="0.3" stroke="#00008b" stroke-width="0.45" stroke-opacity="0.55"/>
<circle cx="447.40" cy="178.10" r="1.0" fill="#00008b" fill-opacity="0.3" stroke="#00008b" stroke-width="0.45" stroke-opacity="0.55"/>
<circle cx="462.68" cy="178.10" r="1.0" fill="#00008b" fill-opacity="0.3" stroke="#00008b" stroke-width="0.45" stroke-opacity="0.55"/>
<circle cx="477.96" cy="177.40" r="1.0" fill="#00008b" fill-opacity="0.3" stroke="#00008b" stroke-width="0.45" stroke-opacity="0.55"/>
<circle cx="493.24" cy="176.40" r="1.0" fill="#00008b" fill-opacity="0.3" stroke="#00008b" stroke-width="0.45" stroke-opacity="0.55"/>
<circle cx="508.52" cy="175.20" r="1.0" fill="#00008b" fill-opacity="0.3" stroke="#00008b" stroke-width="0.45" stroke-opacity="0.55"/>
<circle cx="523.80" cy="172.80" r="1.0" fill="#00008b" fill-opacity="0.3" stroke="#00008b" stroke-width="0.45" stroke-opacity="0.55"/>
<circle cx="539.08" cy="168.40" r="1.0" fill="#00008b" fill-opacity="0.3" stroke="#00008b" stroke-width="0.45" stroke-opacity="0.55"/>
<circle cx="554.36" cy="160.00" r="1.0" fill="#00008b" fill-opacity="0.3" stroke="#00008b" stroke-width="0.45" stroke-opacity="0.55"/>
<circle cx="569.64" cy="151.40" r="1.0" fill="#00008b" fill-opacity="0.3" stroke="#00008b" stroke-width="0.45" stroke-opacity="0.55"/>
<circle cx="584.92" cy="147.30" r="1.0" fill="#00008b" fill-opacity="0.3" stroke="#00008b" stroke-width="0.45" stroke-opacity="0.55"/>
<circle cx="600.20" cy="144.00" r="1.0" fill="#00008b" fill-opacity="0.3" stroke="#00008b" stroke-width="0.45" stroke-opacity="0.55"/>
<circle cx="615.48" cy="139.30" r="1.0" fill="#00008b" fill-opacity="0.3" stroke="#00008b" stroke-width="0.45" stroke-opacity="0.55"/>
<circle cx="630.76" cy="133.50" r="1.0" fill="#00008b" fill-opacity="0.3" stroke="#00008b" stroke-width="0.45" stroke-opacity="0.55"/>
<circle cx="646.04" cy="124.50" r="1.0" fill="#00008b" fill-opacity="0.3" stroke="#00008b" stroke-width="0.45" stroke-opacity="0.55"/>
<circle cx="661.32" cy="108.30" r="1.0" fill="#00008b" fill-opacity="0.3" stroke="#00008b" stroke-width="0.45" stroke-opacity="0.55"/>
<text x="358.8" y="190.09" class="s" font-size="4.7" fill="#444444" text-anchor="end">0</text>
<text x="358.8" y="147.69" class="s" font-size="4.7" fill="#444444" text-anchor="end">200</text>
<text x="358.8" y="105.29" class="s" font-size="4.7" fill="#444444" text-anchor="end">400</text>
<text x="358.8" y="62.89" class="s" font-size="4.7" fill="#444444" text-anchor="end">600</text>
<text transform="translate(371.00,195.2) rotate(-45)" class="s" font-size="5.0" fill="#444444" text-anchor="end" dominant-baseline="hanging">0_4</text>
<text transform="translate(386.28,195.2) rotate(-45)" class="s" font-size="5.0" fill="#444444" text-anchor="end" dominant-baseline="hanging">5_9</text>
<text transform="translate(401.56,195.2) rotate(-45)" class="s" font-size="5.0" fill="#444444" text-anchor="end" dominant-baseline="hanging">10_14</text>
<text transform="translate(416.84,195.2) rotate(-45)" class="s" font-size="5.0" fill="#444444" text-anchor="end" dominant-baseline="hanging">15_19</text>
<text transform="translate(432.12,195.2) rotate(-45)" class="s" font-size="5.0" fill="#444444" text-anchor="end" dominant-baseline="hanging">20_24</text>
<text transform="translate(447.40,195.2) rotate(-45)" class="s" font-size="5.0" fill="#444444" text-anchor="end" dominant-baseline="hanging">25_29</text>
<text transform="translate(462.68,195.2) rotate(-45)" class="s" font-size="5.0" fill="#444444" text-anchor="end" dominant-baseline="hanging">30_34</text>
<text transform="translate(477.96,195.2) rotate(-45)" class="s" font-size="5.0" fill="#444444" text-anchor="end" dominant-baseline="hanging">35_39</text>
<text transform="translate(493.24,195.2) rotate(-45)" class="s" font-size="5.0" fill="#444444" text-anchor="end" dominant-baseline="hanging">40_44</text>
<text transform="translate(508.52,195.2) rotate(-45)" class="s" font-size="5.0" fill="#444444" text-anchor="end" dominant-baseline="hanging">45_49</text>
<text transform="translate(523.80,195.2) rotate(-45)" class="s" font-size="5.0" fill="#444444" text-anchor="end" dominant-baseline="hanging">50_54</text>
<text transform="translate(539.08,195.2) rotate(-45)" class="s" font-size="5.0" fill="#444444" text-anchor="end" dominant-baseline="hanging">55_59</text>
<text transform="translate(554.36,195.2) rotate(-45)" class="s" font-size="5.0" fill="#444444" text-anchor="end" dominant-baseline="hanging">60_64</text>
<text transform="translate(569.64,195.2) rotate(-45)" class="s" font-size="5.0" fill="#444444" text-anchor="end" dominant-baseline="hanging">65_69</text>
<text transform="translate(584.92,195.2) rotate(-45)" class="s" font-size="5.0" fill="#444444" text-anchor="end" dominant-baseline="hanging">70_74</text>
<text transform="translate(600.20,195.2) rotate(-45)" class="s" font-size="5.0" fill="#444444" text-anchor="end" dominant-baseline="hanging">75_79</text>
<text transform="translate(615.48,195.2) rotate(-45)" class="s" font-size="5.0" fill="#444444" text-anchor="end" dominant-baseline="hanging">80_84</text>
<text transform="translate(630.76,195.2) rotate(-45)" class="s" font-size="5.0" fill="#444444" text-anchor="end" dominant-baseline="hanging">85_89</text>
<text transform="translate(646.04,195.2) rotate(-45)" class="s" font-size="5.0" fill="#444444" text-anchor="end" dominant-baseline="hanging">90_94</text>
<text transform="translate(661.32,195.2) rotate(-45)" class="s" font-size="5.0" fill="#444444" text-anchor="end" dominant-baseline="hanging">95+</text>
<text transform="translate(349.3,120.2) rotate(-90)" class="t" font-size="5.65" fill="#0a0a0a" text-anchor="middle">DALY Rate (per 100,000 Population)</text>
<text x="516.3" y="213.9" class="t" font-size="5.6" fill="#0a0a0a" text-anchor="middle">Age Group</text>
<text x="479.9" y="35.78" font-size="5.8" fill="#0a0a0a">sex</text>
<line x1="493.4" x2="502.4" y1="33.4" y2="33.4" stroke="#ff0000" stroke-width="1.1"/>
<circle cx="497.9" cy="33.4" r="0.9" fill="#ff0000"/>
<text x="506.8" y="35.58" font-size="4.95" fill="#0a0a0a">Female</text>
<line x1="528.1" x2="537.1" y1="33.4" y2="33.4" stroke="#00008b" stroke-width="1.1"/>
<circle cx="532.6" cy="33.4" r="0.9" fill="#00008b"/>
<text x="541.2" y="35.58" font-size="4.95" fill="#0a0a0a">Male</text>
<text x="14.9" y="232.1" font-size="10" font-weight="bold" fill="#000" stroke="#000" stroke-width="0.25" textLength="15.0" lengthAdjust="spacingAndGlyphs">D-1</text>
<line x1="41.3" x2="346.8" y1="382.15" y2="382.15" stroke="#f1f1f1" stroke-width="0.7"/>
<line x1="41.3" x2="346.8" y1="331.45" y2="331.45" stroke="#f1f1f1" stroke-width="0.7"/>
<line x1="41.3" x2="346.8" y1="280.75" y2="280.75" stroke="#f1f1f1" stroke-width="0.7"/>
<line x1="41.3" x2="346.8" y1="407.50" y2="407.50" stroke="#f0f0f0" stroke-width="0.8"/>
<line x1="41.3" x2="346.8" y1="356.80" y2="356.80" stroke="#f0f0f0" stroke-width="0.8"/>
<line x1="41.3" x2="346.8" y1="306.10" y2="306.10" stroke="#f0f0f0" stroke-width="0.8"/>
<line x1="50.50" x2="50.50" y1="273" y2="413.6" stroke="#eeeeee" stroke-width="0.8"/>
<line x1="65.65" x2="65.65" y1="273" y2="413.6" stroke="#eeeeee" stroke-width="0.8"/>
<line x1="80.79" x2="80.79" y1="273" y2="413.6" stroke="#eeeeee" stroke-width="0.8"/>
<line x1="95.94" x2="95.94" y1="273" y2="413.6" stroke="#eeeeee" stroke-width="0.8"/>
<line x1="111.09" x2="111.09" y1="273" y2="413.6" stroke="#eeeeee" stroke-width="0.8"/>
<line x1="126.23" x2="126.23" y1="273" y2="413.6" stroke="#eeeeee" stroke-width="0.8"/>
<line x1="141.38" x2="141.38" y1="273" y2="413.6" stroke="#eeeeee" stroke-width="0.8"/>
<line x1="156.53" x2="156.53" y1="273" y2="413.6" stroke="#eeeeee" stroke-width="0.8"/>
<line x1="171.68" x2="171.68" y1="273" y2="413.6" stroke="#eeeeee" stroke-width="0.8"/>
<line x1="186.82" x2="186.82" y1="273" y2="413.6" stroke="#eeeeee" stroke-width="0.8"/>
<line x1="201.97" x2="201.97" y1="273" y2="413.6" stroke="#eeeeee" stroke-width="0.8"/>
<line x1="217.12" x2="217.12" y1="273" y2="413.6" stroke="#eeeeee" stroke-width="0.8"/>
<line x1="232.26" x2="232.26" y1="273" y2="413.6" stroke="#eeeeee" stroke-width="0.8"/>
<line x1="247.41" x2="247.41" y1="273" y2="413.6" stroke="#eeeeee" stroke-width="0.8"/>
<line x1="262.56" x2="262.56" y1="273" y2="413.6" stroke="#eeeeee" stroke-width="0.8"/>
<line x1="277.71" x2="277.71" y1="273" y2="413.6" stroke="#eeeeee" stroke-width="0.8"/>
<line x1="292.85" x2="292.85" y1="273" y2="413.6" stroke="#eeeeee" stroke-width="0.8"/>
<line x1="308.00" x2="308.00" y1="273" y2="413.6" stroke="#eeeeee" stroke-width="0.8"/>
<line x1="323.15" x2="323.15" y1="273" y2="413.6" stroke="#eeeeee" stroke-width="0.8"/>
<line x1="338.29" x2="338.29" y1="273" y2="413.6" stroke="#eeeeee" stroke-width="0.8"/>
<rect x="46.80" y="309.00" width="3.55" height="98.50" fill="#ff4646"/>
<rect x="50.35" y="316.90" width="3.55" height="90.60" fill="#4646ff"/>
<rect x="61.95" y="394.00" width="3.55" height="13.50" fill="#ff4646"/>
<rect x="65.50" y="391.90" width="3.55" height="15.60" fill="#4646ff"/>
<rect x="77.09" y="394.00" width="3.55" height="13.50" fill="#ff4646"/>
<rect x="80.64" y="394.00" width="3.55" height="13.50" fill="#4646ff"/>
<rect x="92.24" y="381.00" width="3.55" height="26.50" fill="#ff4646"/>
<rect x="95.79" y="389.60" width="3.55" height="17.90" fill="#4646ff"/>
<rect x="107.39" y="365.10" width="3.55" height="42.40" fill="#ff4646"/>
<rect x="110.94" y="382.40" width="3.55" height="25.10" fill="#4646ff"/>
<rect x="122.53" y="366.20" width="3.55" height="41.30" fill="#ff4646"/>
<rect x="126.08" y="385.30" width="3.55" height="22.20" fill="#4646ff"/>
<rect x="137.68" y="377.00" width="3.55" height="30.50" fill="#ff4646"/>
<rect x="141.23" y="383.30" width="3.55" height="24.20" fill="#4646ff"/>
<rect x="152.83" y="370.20" width="3.55" height="37.30" fill="#ff4646"/>
<rect x="156.38" y="380.20" width="3.55" height="27.30" fill="#4646ff"/>
<rect x="167.98" y="370.20" width="3.55" height="37.30" fill="#ff4646"/>
<rect x="171.53" y="379.30" width="3.55" height="28.20" fill="#4646ff"/>
<rect x="183.12" y="366.20" width="3.55" height="41.30" fill="#ff4646"/>
<rect x="186.67" y="379.30" width="3.55" height="28.20" fill="#4646ff"/>
<rect x="198.27" y="372.40" width="3.55" height="35.10" fill="#ff4646"/>
<rect x="201.82" y="377.50" width="3.55" height="30.00" fill="#4646ff"/>
<rect x="213.42" y="370.20" width="3.55" height="37.30" fill="#ff4646"/>
<rect x="216.97" y="374.20" width="3.55" height="33.30" fill="#4646ff"/>
<rect x="228.56" y="361.10" width="3.55" height="46.40" fill="#ff4646"/>
<rect x="232.11" y="364.40" width="3.55" height="43.10" fill="#4646ff"/>
<rect x="243.71" y="356.60" width="3.55" height="50.90" fill="#ff4646"/>
<rect x="247.26" y="359.30" width="3.55" height="48.20" fill="#4646ff"/>
<rect x="258.86" y="361.10" width="3.55" height="46.40" fill="#ff4646"/>
<rect x="262.41" y="366.60" width="3.55" height="40.90" fill="#4646ff"/>
<rect x="274.01" y="369.30" width="3.55" height="38.20" fill="#ff4646"/>
<rect x="277.56" y="373.80" width="3.55" height="33.70" fill="#4646ff"/>
<rect x="289.15" y="378.10" width="3.55" height="29.40" fill="#ff4646"/>
<rect x="292.70" y="379.90" width="3.55" height="27.60" fill="#4646ff"/>
<rect x="304.30" y="389.10" width="3.55" height="18.40" fill="#ff4646"/>
<rect x="307.85" y="389.10" width="3.55" height="18.40" fill="#4646ff"/>
<rect x="319.45" y="399.90" width="3.55" height="7.60" fill="#ff4646"/>
<rect x="323.00" y="399.30" width="3.55" height="8.20" fill="#4646ff"/>
<rect x="334.59" y="405.00" width="3.55" height="2.50" fill="#ff4646"/>
<rect x="338.14" y="404.40" width="3.55" height="3.10" fill="#4646ff"/>
<line x1="48.40" x2="48.40" y1="279.20" y2="335.82" stroke="#ff1010" stroke-width="0.65"/>
<line x1="47.50" x2="49.30" y1="279.20" y2="279.20" stroke="#ff1010" stroke-width="0.65"/>
<line x1="47.50" x2="49.30" y1="335.82" y2="335.82" stroke="#e00000" stroke-width="0.5"/>
<line x1="52.35" x2="52.35" y1="283.20" y2="347.23" stroke="#1010ff" stroke-width="0.65"/>
<line x1="51.45" x2="53.25" y1="283.20" y2="283.20" stroke="#1010ff" stroke-width="0.65"/>
<line x1="51.45" x2="53.25" y1="347.23" y2="347.23" stroke="#0000e0" stroke-width="0.5"/>
<line x1="63.55" x2="63.55" y1="390.00" y2="397.60" stroke="#ff1010" stroke-width="0.65"/>
<line x1="62.65" x2="64.45" y1="390.00" y2="390.00" stroke="#ff1010" stroke-width="0.65"/>
<line x1="62.65" x2="64.45" y1="397.60" y2="397.60" stroke="#e00000" stroke-width="0.5"/>
<line x1="67.50" x2="67.50" y1="387.10" y2="396.22" stroke="#1010ff" stroke-width="0.65"/>
<line x1="66.60" x2="68.40" y1="387.10" y2="387.10" stroke="#1010ff" stroke-width="0.65"/>
<line x1="66.60" x2="68.40" y1="396.22" y2="396.22" stroke="#0000e0" stroke-width="0.5"/>
<line x1="78.69" x2="78.69" y1="390.00" y2="397.60" stroke="#ff1010" stroke-width="0.65"/>
<line x1="77.79" x2="79.59" y1="390.00" y2="390.00" stroke="#ff1010" stroke-width="0.65"/>
<line x1="77.79" x2="79.59" y1="397.60" y2="397.60" stroke="#e00000" stroke-width="0.5"/>
<line x1="82.64" x2="82.64" y1="388.10" y2="399.31" stroke="#1010ff" stroke-width="0.65"/>
<line x1="81.74" x2="83.54" y1="388.10" y2="388.10" stroke="#1010ff" stroke-width="0.65"/>
<line x1="81.74" x2="83.54" y1="399.31" y2="399.31" stroke="#0000e0" stroke-width="0.5"/>
<line x1="93.84" x2="93.84" y1="371.20" y2="389.82" stroke="#ff1010" stroke-width="0.65"/>
<line x1="92.94" x2="94.74" y1="371.20" y2="371.20" stroke="#ff1010" stroke-width="0.65"/>
<line x1="92.94" x2="94.74" y1="389.82" y2="389.82" stroke="#e00000" stroke-width="0.5"/>
<line x1="97.79" x2="97.79" y1="380.30" y2="397.97" stroke="#1010ff" stroke-width="0.65"/>
<line x1="96.89" x2="98.69" y1="380.30" y2="380.30" stroke="#1010ff" stroke-width="0.65"/>
<line x1="96.89" x2="98.69" y1="397.97" y2="397.97" stroke="#0000e0" stroke-width="0.5"/>
<line x1="108.99" x2="108.99" y1="352.20" y2="376.71" stroke="#ff1010" stroke-width="0.65"/>
<line x1="108.09" x2="109.89" y1="352.20" y2="352.20" stroke="#ff1010" stroke-width="0.65"/>
<line x1="108.09" x2="109.89" y1="376.71" y2="376.71" stroke="#e00000" stroke-width="0.5"/>
<line x1="112.94" x2="112.94" y1="373.50" y2="390.41" stroke="#1010ff" stroke-width="0.65"/>
<line x1="112.04" x2="113.84" y1="373.50" y2="373.50" stroke="#1010ff" stroke-width="0.65"/>
<line x1="112.04" x2="113.84" y1="390.41" y2="390.41" stroke="#0000e0" stroke-width="0.5"/>
<line x1="124.14" x2="124.14" y1="352.60" y2="378.44" stroke="#ff1010" stroke-width="0.65"/>
<line x1="123.23" x2="125.04" y1="352.60" y2="352.60" stroke="#ff1010" stroke-width="0.65"/>
<line x1="123.23" x2="125.04" y1="378.44" y2="378.44" stroke="#e00000" stroke-width="0.5"/>
<line x1="128.09" x2="128.09" y1="377.50" y2="392.32" stroke="#1010ff" stroke-width="0.65"/>
<line x1="127.19" x2="128.99" y1="377.50" y2="377.50" stroke="#1010ff" stroke-width="0.65"/>
<line x1="127.19" x2="128.99" y1="392.32" y2="392.32" stroke="#0000e0" stroke-width="0.5"/>
<line x1="139.28" x2="139.28" y1="367.50" y2="385.55" stroke="#ff1010" stroke-width="0.65"/>
<line x1="138.38" x2="140.18" y1="367.50" y2="367.50" stroke="#ff1010" stroke-width="0.65"/>
<line x1="138.38" x2="140.18" y1="385.55" y2="385.55" stroke="#e00000" stroke-width="0.5"/>
<line x1="143.23" x2="143.23" y1="376.60" y2="389.33" stroke="#1010ff" stroke-width="0.65"/>
<line x1="142.33" x2="144.13" y1="376.60" y2="376.60" stroke="#1010ff" stroke-width="0.65"/>
<line x1="142.33" x2="144.13" y1="389.33" y2="389.33" stroke="#0000e0" stroke-width="0.5"/>
<line x1="154.43" x2="154.43" y1="357.90" y2="381.27" stroke="#ff1010" stroke-width="0.65"/>
<line x1="153.53" x2="155.33" y1="357.90" y2="357.90" stroke="#ff1010" stroke-width="0.65"/>
<line x1="153.53" x2="155.33" y1="381.27" y2="381.27" stroke="#e00000" stroke-width="0.5"/>
<line x1="158.38" x2="158.38" y1="371.70" y2="387.85" stroke="#1010ff" stroke-width="0.65"/>
<line x1="157.48" x2="159.28" y1="371.70" y2="371.70" stroke="#1010ff" stroke-width="0.65"/>
<line x1="157.48" x2="159.28" y1="387.85" y2="387.85" stroke="#0000e0" stroke-width="0.5"/>
<line x1="169.58" x2="169.58" y1="359.30" y2="380.01" stroke="#ff1010" stroke-width="0.65"/>
<line x1="168.68" x2="170.48" y1="359.30" y2="359.30" stroke="#ff1010" stroke-width="0.65"/>
<line x1="168.68" x2="170.48" y1="380.01" y2="380.01" stroke="#e00000" stroke-width="0.5"/>
<line x1="173.53" x2="173.53" y1="370.60" y2="387.13" stroke="#1010ff" stroke-width="0.65"/>
<line x1="172.63" x2="174.43" y1="370.60" y2="370.60" stroke="#1010ff" stroke-width="0.65"/>
<line x1="172.63" x2="174.43" y1="387.13" y2="387.13" stroke="#0000e0" stroke-width="0.5"/>
<line x1="184.72" x2="184.72" y1="353.30" y2="377.81" stroke="#ff1010" stroke-width="0.65"/>
<line x1="183.82" x2="185.62" y1="353.30" y2="353.30" stroke="#ff1010" stroke-width="0.65"/>
<line x1="183.82" x2="185.62" y1="377.81" y2="377.81" stroke="#e00000" stroke-width="0.5"/>
<line x1="188.67" x2="188.67" y1="371.50" y2="386.32" stroke="#1010ff" stroke-width="0.65"/>
<line x1="187.77" x2="189.57" y1="371.50" y2="371.50" stroke="#1010ff" stroke-width="0.65"/>
<line x1="187.77" x2="189.57" y1="386.32" y2="386.32" stroke="#0000e0" stroke-width="0.5"/>
<line x1="199.87" x2="199.87" y1="362.60" y2="381.22" stroke="#ff1010" stroke-width="0.65"/>
<line x1="198.97" x2="200.77" y1="362.60" y2="362.60" stroke="#ff1010" stroke-width="0.65"/>
<line x1="198.97" x2="200.77" y1="381.22" y2="381.22" stroke="#e00000" stroke-width="0.5"/>
<line x1="203.82" x2="203.82" y1="369.30" y2="384.88" stroke="#1010ff" stroke-width="0.65"/>
<line x1="202.92" x2="204.72" y1="369.30" y2="369.30" stroke="#1010ff" stroke-width="0.65"/>
<line x1="202.92" x2="204.72" y1="384.88" y2="384.88" stroke="#0000e0" stroke-width="0.5"/>
<line x1="215.02" x2="215.02" y1="358.80" y2="380.46" stroke="#ff1010" stroke-width="0.65"/>
<line x1="214.12" x2="215.92" y1="358.80" y2="358.80" stroke="#ff1010" stroke-width="0.65"/>
<line x1="214.12" x2="215.92" y1="380.46" y2="380.46" stroke="#e00000" stroke-width="0.5"/>
<line x1="218.97" x2="218.97" y1="364.40" y2="383.02" stroke="#1010ff" stroke-width="0.65"/>
<line x1="218.07" x2="219.87" y1="364.40" y2="364.40" stroke="#1010ff" stroke-width="0.65"/>
<line x1="218.07" x2="219.87" y1="383.02" y2="383.02" stroke="#0000e0" stroke-width="0.5"/>
<line x1="230.16" x2="230.16" y1="345.70" y2="374.96" stroke="#ff1010" stroke-width="0.65"/>
<line x1="229.26" x2="231.06" y1="345.70" y2="345.70" stroke="#ff1010" stroke-width="0.65"/>
<line x1="229.26" x2="231.06" y1="374.96" y2="374.96" stroke="#e00000" stroke-width="0.5"/>
<line x1="234.11" x2="234.11" y1="349.90" y2="377.45" stroke="#1010ff" stroke-width="0.65"/>
<line x1="233.21" x2="235.01" y1="349.90" y2="349.90" stroke="#1010ff" stroke-width="0.65"/>
<line x1="233.21" x2="235.01" y1="377.45" y2="377.45" stroke="#0000e0" stroke-width="0.5"/>
<line x1="245.31" x2="245.31" y1="342.40" y2="369.38" stroke="#ff1010" stroke-width="0.65"/>
<line x1="244.41" x2="246.21" y1="342.40" y2="342.40" stroke="#ff1010" stroke-width="0.65"/>
<line x1="244.41" x2="246.21" y1="369.38" y2="369.38" stroke="#e00000" stroke-width="0.5"/>
<line x1="249.26" x2="249.26" y1="342.60" y2="374.33" stroke="#1010ff" stroke-width="0.65"/>
<line x1="248.36" x2="250.16" y1="342.60" y2="342.60" stroke="#1010ff" stroke-width="0.65"/>
<line x1="248.36" x2="250.16" y1="374.33" y2="374.33" stroke="#0000e0" stroke-width="0.5"/>
<line x1="260.46" x2="260.46" y1="346.60" y2="374.15" stroke="#ff1010" stroke-width="0.65"/>
<line x1="259.56" x2="261.36" y1="346.60" y2="346.60" stroke="#ff1010" stroke-width="0.65"/>
<line x1="259.56" x2="261.36" y1="374.15" y2="374.15" stroke="#e00000" stroke-width="0.5"/>
<line x1="264.41" x2="264.41" y1="352.60" y2="379.20" stroke="#1010ff" stroke-width="0.65"/>
<line x1="263.51" x2="265.31" y1="352.60" y2="352.60" stroke="#1010ff" stroke-width="0.65"/>
<line x1="263.51" x2="265.31" y1="379.20" y2="379.20" stroke="#0000e0" stroke-width="0.5"/>
<line x1="275.61" x2="275.61" y1="358.60" y2="378.93" stroke="#ff1010" stroke-width="0.65"/>
<line x1="274.71" x2="276.50" y1="358.60" y2="358.60" stroke="#ff1010" stroke-width="0.65"/>
<line x1="274.71" x2="276.50" y1="378.93" y2="378.93" stroke="#e00000" stroke-width="0.5"/>
<line x1="279.56" x2="279.56" y1="360.60" y2="385.68" stroke="#1010ff" stroke-width="0.65"/>
<line x1="278.66" x2="280.46" y1="360.60" y2="360.60" stroke="#1010ff" stroke-width="0.65"/>
<line x1="278.66" x2="280.46" y1="385.68" y2="385.68" stroke="#0000e0" stroke-width="0.5"/>
<line x1="290.75" x2="290.75" y1="369.50" y2="385.84" stroke="#ff1010" stroke-width="0.65"/>
<line x1="289.85" x2="291.65" y1="369.50" y2="369.50" stroke="#ff1010" stroke-width="0.65"/>
<line x1="289.85" x2="291.65" y1="385.84" y2="385.84" stroke="#e00000" stroke-width="0.5"/>
<line x1="294.70" x2="294.70" y1="370.70" y2="388.18" stroke="#1010ff" stroke-width="0.65"/>
<line x1="293.80" x2="295.60" y1="370.70" y2="370.70" stroke="#1010ff" stroke-width="0.65"/>
<line x1="293.80" x2="295.60" y1="388.18" y2="388.18" stroke="#0000e0" stroke-width="0.5"/>
<line x1="305.90" x2="305.90" y1="382.50" y2="395.04" stroke="#ff1010" stroke-width="0.65"/>
<line x1="305.00" x2="306.80" y1="382.50" y2="382.50" stroke="#ff1010" stroke-width="0.65"/>
<line x1="305.00" x2="306.80" y1="395.04" y2="395.04" stroke="#e00000" stroke-width="0.5"/>
<line x1="309.85" x2="309.85" y1="382.50" y2="395.04" stroke="#1010ff" stroke-width="0.65"/>
<line x1="308.95" x2="310.75" y1="382.50" y2="382.50" stroke="#1010ff" stroke-width="0.65"/>
<line x1="308.95" x2="310.75" y1="395.04" y2="395.04" stroke="#0000e0" stroke-width="0.5"/>
<line x1="321.05" x2="321.05" y1="397.70" y2="401.88" stroke="#ff1010" stroke-width="0.65"/>
<line x1="320.15" x2="321.95" y1="397.70" y2="397.70" stroke="#ff1010" stroke-width="0.65"/>
<line x1="320.15" x2="321.95" y1="401.88" y2="401.88" stroke="#e00000" stroke-width="0.5"/>
<line x1="325.00" x2="325.00" y1="396.70" y2="401.64" stroke="#1010ff" stroke-width="0.65"/>
<line x1="324.10" x2="325.90" y1="396.70" y2="396.70" stroke="#1010ff" stroke-width="0.65"/>
<line x1="324.10" x2="325.90" y1="401.64" y2="401.64" stroke="#0000e0" stroke-width="0.5"/>
<line x1="336.19" x2="336.19" y1="403.80" y2="406.08" stroke="#ff1010" stroke-width="0.65"/>
<line x1="335.29" x2="337.09" y1="403.80" y2="403.80" stroke="#ff1010" stroke-width="0.65"/>
<line x1="335.29" x2="337.09" y1="406.08" y2="406.08" stroke="#e00000" stroke-width="0.5"/>
<line x1="340.14" x2="340.14" y1="403.40" y2="405.30" stroke="#1010ff" stroke-width="0.65"/>
<line x1="339.24" x2="341.04" y1="403.40" y2="403.40" stroke="#1010ff" stroke-width="0.65"/>
<line x1="339.24" x2="341.04" y1="405.30" y2="405.30" stroke="#0000e0" stroke-width="0.5"/>
<text x="38.3" y="410.29" class="s" font-size="4.7" fill="#444444" text-anchor="end">0</text>
<text x="38.3" y="359.39" class="s" font-size="4.7" fill="#444444" text-anchor="end">500</text>
<text x="38.3" y="309.09" class="s" font-size="4.7" fill="#444444" text-anchor="end">1000</text>
<text transform="translate(51.30,419.9) rotate(-45)" class="s" font-size="5.0" fill="#444444" text-anchor="end" dominant-baseline="hanging">0_4</text>
<text transform="translate(66.45,419.9) rotate(-45)" class="s" font-size="5.0" fill="#444444" text-anchor="end" dominant-baseline="hanging">5_9</text>
<text transform="translate(81.59,419.9) rotate(-45)" class="s" font-size="5.0" fill="#444444" text-anchor="end" dominant-baseline="hanging">10_14</text>
<text transform="translate(96.74,419.9) rotate(-45)" class="s" font-size="5.0" fill="#444444" text-anchor="end" dominant-baseline="hanging">15_19</text>
<text transform="translate(111.89,419.9) rotate(-45)" class="s" font-size="5.0" fill="#444444" text-anchor="end" dominant-baseline="hanging">20_24</text>
<text transform="translate(127.03,419.9) rotate(-45)" class="s" font-size="5.0" fill="#444444" text-anchor="end" dominant-baseline="hanging">25_29</text>
<text transform="translate(142.18,419.9) rotate(-45)" class="s" font-size="5.0" fill="#444444" text-anchor="end" dominant-baseline="hanging">30_34</text>
<text transform="translate(157.33,419.9) rotate(-45)" class="s" font-size="5.0" fill="#444444" text-anchor="end" dominant-baseline="hanging">35_39</text>
<text transform="translate(172.48,419.9) rotate(-45)" class="s" font-size="5.0" fill="#444444" text-anchor="end" dominant-baseline="hanging">40_44</text>
<text transform="translate(187.62,419.9) rotate(-45)" class="s" font-size="5.0" fill="#444444" text-anchor="end" dominant-baseline="hanging">45_49</text>
<text transform="translate(202.77,419.9) rotate(-45)" class="s" font-size="5.0" fill="#444444" text-anchor="end" dominant-baseline="hanging">50_54</text>
<text transform="translate(217.92,419.9) rotate(-45)" class="s" font-size="5.0" fill="#444444" text-anchor="end" dominant-baseline="hanging">55_59</text>
<text transform="translate(233.06,419.9) rotate(-45)" class="s" font-size="5.0" fill="#444444" text-anchor="end" dominant-baseline="hanging">60_64</text>
<text transform="translate(248.21,419.9) rotate(-45)" class="s" font-size="5.0" fill="#444444" text-anchor="end" dominant-baseline="hanging">65_69</text>
<text transform="translate(263.36,419.9) rotate(-45)" class="s" font-size="5.0" fill="#444444" text-anchor="end" dominant-baseline="hanging">70_74</text>
<text transform="translate(278.51,419.9) rotate(-45)" class="s" font-size="5.0" fill="#444444" text-anchor="end" dominant-baseline="hanging">75_79</text>
<text transform="translate(293.65,419.9) rotate(-45)" class="s" font-size="5.0" fill="#444444" text-anchor="end" dominant-baseline="hanging">80_84</text>
<text transform="translate(308.80,419.9) rotate(-45)" class="s" font-size="5.0" fill="#444444" text-anchor="end" dominant-baseline="hanging">85_89</text>
<text transform="translate(323.95,419.9) rotate(-45)" class="s" font-size="5.0" fill="#444444" text-anchor="end" dominant-baseline="hanging">90_94</text>
<text transform="translate(339.09,419.9) rotate(-45)" class="s" font-size="5.0" fill="#444444" text-anchor="end" dominant-baseline="hanging">95+</text>
<text transform="translate(24.9,343.6) rotate(-90)" class="t" font-size="5.65" fill="#0a0a0a" text-anchor="middle">Death Numbers</text>
<text x="194.2" y="438" class="t" font-size="5.6" fill="#0a0a0a" text-anchor="middle">Age Group</text>
<text x="156.1" y="259.38" font-size="6.2" font-weight="bold" fill="#0a0a0a">sex</text>
<rect x="170.3" y="251.7" width="10" height="10" fill="#ff4646"/>
<line x1="170.3" x2="180.3" y1="256.7" y2="256.7" stroke="#f01010" stroke-width="0.8"/>
<text x="184.6" y="259.38" font-size="5.5" fill="#0a0a0a">Female</text>
<rect x="207.1" y="251.7" width="10" height="10" fill="#4646ff"/>
<line x1="207.1" x2="217.1" y1="256.7" y2="256.7" stroke="#1010f0" stroke-width="0.8"/>
<text x="221.1" y="259.38" font-size="5.5" fill="#0a0a0a">Male</text>
<text x="367.8" y="231.9" font-size="10" font-weight="bold" fill="#000" stroke="#000" stroke-width="0.25" textLength="15.9" lengthAdjust="spacingAndGlyphs">D-2</text>
<line x1="372.8" x2="685" y1="390.82" y2="390.82" stroke="#f1f1f1" stroke-width="0.7"/>
<line x1="372.8" x2="685" y1="356.66" y2="356.66" stroke="#f1f1f1" stroke-width="0.7"/>
<line x1="372.8" x2="685" y1="322.50" y2="322.50" stroke="#f1f1f1" stroke-width="0.7"/>
<line x1="372.8" x2="685" y1="288.34" y2="288.34" stroke="#f1f1f1" stroke-width="0.7"/>
<line x1="372.8" x2="685" y1="407.90" y2="407.90" stroke="#f0f0f0" stroke-width="0.8"/>
<line x1="372.8" x2="685" y1="373.74" y2="373.74" stroke="#f0f0f0" stroke-width="0.8"/>
<line x1="372.8" x2="685" y1="339.58" y2="339.58" stroke="#f0f0f0" stroke-width="0.8"/>
<line x1="372.8" x2="685" y1="305.42" y2="305.42" stroke="#f0f0f0" stroke-width="0.8"/>
<line x1="382.50" x2="382.50" y1="273" y2="413.6" stroke="#eeeeee" stroke-width="0.8"/>
<line x1="397.90" x2="397.90" y1="273" y2="413.6" stroke="#eeeeee" stroke-width="0.8"/>
<line x1="413.30" x2="413.30" y1="273" y2="413.6" stroke="#eeeeee" stroke-width="0.8"/>
<line x1="428.70" x2="428.70" y1="273" y2="413.6" stroke="#eeeeee" stroke-width="0.8"/>
<line x1="444.10" x2="444.10" y1="273" y2="413.6" stroke="#eeeeee" stroke-width="0.8"/>
<line x1="459.50" x2="459.50" y1="273" y2="413.6" stroke="#eeeeee" stroke-width="0.8"/>
<line x1="474.90" x2="474.90" y1="273" y2="413.6" stroke="#eeeeee" stroke-width="0.8"/>
<line x1="490.30" x2="490.30" y1="273" y2="413.6" stroke="#eeeeee" stroke-width="0.8"/>
<line x1="505.70" x2="505.70" y1="273" y2="413.6" stroke="#eeeeee" stroke-width="0.8"/>
<line x1="521.10" x2="521.10" y1="273" y2="413.6" stroke="#eeeeee" stroke-width="0.8"/>
<line x1="536.50" x2="536.50" y1="273" y2="413.6" stroke="#eeeeee" stroke-width="0.8"/>
<line x1="551.90" x2="551.90" y1="273" y2="413.6" stroke="#eeeeee" stroke-width="0.8"/>
<line x1="567.30" x2="567.30" y1="273" y2="413.6" stroke="#eeeeee" stroke-width="0.8"/>
<line x1="582.70" x2="582.70" y1="273" y2="413.6" stroke="#eeeeee" stroke-width="0.8"/>
<line x1="598.10" x2="598.10" y1="273" y2="413.6" stroke="#eeeeee" stroke-width="0.8"/>
<line x1="613.50" x2="613.50" y1="273" y2="413.6" stroke="#eeeeee" stroke-width="0.8"/>
<line x1="628.90" x2="628.90" y1="273" y2="413.6" stroke="#eeeeee" stroke-width="0.8"/>
<line x1="644.30" x2="644.30" y1="273" y2="413.6" stroke="#eeeeee" stroke-width="0.8"/>
<line x1="659.70" x2="659.70" y1="273" y2="413.6" stroke="#eeeeee" stroke-width="0.8"/>
<line x1="675.10" x2="675.10" y1="273" y2="413.6" stroke="#eeeeee" stroke-width="0.8"/>
<polyline points="382.50,404.10 397.90,407.60 413.30,407.60 428.70,407.20 444.10,405.90 459.50,405.60 474.90,406.40 490.30,405.70 505.70,405.30 521.10,404.50 536.50,404.20 551.90,402.50 567.30,399.50 582.70,395.00 598.10,389.30 613.50,383.20 628.90,374.00 644.30,359.20 659.70,341.80 675.10,313.40" fill="none" stroke="#ff0000" stroke-width="1.2" stroke-linejoin="round"/>
<polyline points="382.50,404.80 397.90,407.70 413.30,407.70 428.70,407.40 444.10,406.90 459.50,406.80 474.90,406.90 490.30,406.50 505.70,406.10 521.10,405.60 536.50,404.90 551.90,403.30 567.30,400.60 582.70,396.60 598.10,392.00 613.50,386.20 628.90,377.00 644.30,365.10 659.70,349.10 675.10,330.50" fill="none" stroke="#00008b" stroke-width="1.2" stroke-linejoin="round"/>
<polygon points="382.50,402.80 397.90,407.00 413.30,407.00 428.70,406.20 444.10,404.60 459.50,404.30 474.90,405.40 490.30,404.50 505.70,404.00 521.10,403.00 536.50,402.60 551.90,400.50 567.30,397.30 582.70,391.30 598.10,384.20 613.50,377.20 628.90,364.50 644.30,345.30 659.70,323.20 675.10,280.30 675.10,340.00 659.70,355.30 644.30,370.20 628.90,380.80 613.50,387.80 598.10,392.40 582.70,396.80 567.30,401.20 551.90,403.80 536.50,405.20 521.10,405.40 505.70,406.00 490.30,406.40 474.90,406.90 459.50,406.40 444.10,406.60 428.70,407.40 413.30,407.60 397.90,407.60 382.50,404.80" fill="rgba(255,0,0,0.155)"/>
<polygon points="382.50,403.40 397.90,407.10 413.30,407.10 428.70,406.60 444.10,405.80 459.50,405.70 474.90,405.90 490.30,405.30 505.70,404.70 521.10,403.90 536.50,403.00 551.90,400.80 567.30,397.40 582.70,392.00 598.10,385.80 613.50,379.20 628.90,367.00 644.30,351.30 659.70,330.60 675.10,302.60 675.10,355.20 659.70,364.80 644.30,377.20 628.90,385.00 613.50,391.40 598.10,395.60 582.70,398.80 567.30,402.20 551.90,404.50 536.50,405.70 521.10,406.20 505.70,406.60 490.30,406.90 474.90,407.20 459.50,407.10 444.10,407.20 428.70,407.50 413.30,407.70 397.90,407.70 382.50,405.50" fill="rgba(0,0,139,0.165)"/>
<circle cx="382.50" cy="404.10" r="1.0" fill="#ff0000" fill-opacity="0.3" stroke="#ff0000" stroke-width="0.45" stroke-opacity="0.55"/>
<circle cx="397.90" cy="407.60" r="1.0" fill="#ff0000" fill-opacity="0.3" stroke="#ff0000" stroke-width="0.45" stroke-opacity="0.55"/>
<circle cx="413.30" cy="407.60" r="1.0" fill="#ff0000" fill-opacity="0.3" stroke="#ff0000" stroke-width="0.45" stroke-opacity="0.55"/>
<circle cx="428.70" cy="407.20" r="1.0" fill="#ff0000" fill-opacity="0.3" stroke="#ff0000" stroke-width="0.45" stroke-opacity="0.55"/>
<circle cx="444.10" cy="405.90" r="1.0" fill="#ff0000" fill-opacity="0.3" stroke="#ff0000" stroke-width="0.45" stroke-opacity="0.55"/>
<circle cx="459.50" cy="405.60" r="1.0" fill="#ff0000" fill-opacity="0.3" stroke="#ff0000" stroke-width="0.45" stroke-opacity="0.55"/>
<circle cx="474.90" cy="406.40" r="1.0" fill="#ff0000" fill-opacity="0.3" stroke="#ff0000" stroke-width="0.45" stroke-opacity="0.55"/>
<circle cx="490.30" cy="405.70" r="1.0" fill="#ff0000" fill-opacity="0.3" stroke="#ff0000" stroke-width="0.45" stroke-opacity="0.55"/>
<circle cx="505.70" cy="405.30" r="1.0" fill="#ff0000" fill-opacity="0.3" stroke="#ff0000" stroke-width="0.45" stroke-opacity="0.55"/>
<circle cx="521.10" cy="404.50" r="1.0" fill="#ff0000" fill-opacity="0.3" stroke="#ff0000" stroke-width="0.45" stroke-opacity="0.55"/>
<circle cx="536.50" cy="404.20" r="1.0" fill="#ff0000" fill-opacity="0.3" stroke="#ff0000" stroke-width="0.45" stroke-opacity="0.55"/>
<circle cx="551.90" cy="402.50" r="1.0" fill="#ff0000" fill-opacity="0.3" stroke="#ff0000" stroke-width="0.45" stroke-opacity="0.55"/>
<circle cx="567.30" cy="399.50" r="1.0" fill="#ff0000" fill-opacity="0.3" stroke="#ff0000" stroke-width="0.45" stroke-opacity="0.55"/>
<circle cx="582.70" cy="395.00" r="1.0" fill="#ff0000" fill-opacity="0.3" stroke="#ff0000" stroke-width="0.45" stroke-opacity="0.55"/>
<circle cx="598.10" cy="389.30" r="1.0" fill="#ff0000" fill-opacity="0.3" stroke="#ff0000" stroke-width="0.45" stroke-opacity="0.55"/>
<circle cx="613.50" cy="383.20" r="1.0" fill="#ff0000" fill-opacity="0.3" stroke="#ff0000" stroke-width="0.45" stroke-opacity="0.55"/>
<circle cx="628.90" cy="374.00" r="1.0" fill="#ff0000" fill-opacity="0.3" stroke="#ff0000" stroke-width="0.45" stroke-opacity="0.55"/>
<circle cx="644.30" cy="359.20" r="1.0" fill="#ff0000" fill-opacity="0.3" stroke="#ff0000" stroke-width="0.45" stroke-opacity="0.55"/>
<circle cx="659.70" cy="341.80" r="1.0" fill="#ff0000" fill-opacity="0.3" stroke="#ff0000" stroke-width="0.45" stroke-opacity="0.55"/>
<circle cx="675.10" cy="313.40" r="1.0" fill="#ff0000" fill-opacity="0.3" stroke="#ff0000" stroke-width="0.45" stroke-opacity="0.55"/>
<circle cx="382.50" cy="404.80" r="1.0" fill="#00008b" fill-opacity="0.3" stroke="#00008b" stroke-width="0.45" stroke-opacity="0.55"/>
<circle cx="397.90" cy="407.70" r="1.0" fill="#00008b" fill-opacity="0.3" stroke="#00008b" stroke-width="0.45" stroke-opacity="0.55"/>
<circle cx="413.30" cy="407.70" r="1.0" fill="#00008b" fill-opacity="0.3" stroke="#00008b" stroke-width="0.45" stroke-opacity="0.55"/>
<circle cx="428.70" cy="407.40" r="1.0" fill="#00008b" fill-opacity="0.3" stroke="#00008b" stroke-width="0.45" stroke-opacity="0.55"/>
<circle cx="444.10" cy="406.90" r="1.0" fill="#00008b" fill-opacity="0.3" stroke="#00008b" stroke-width="0.45" stroke-opacity="0.55"/>
<circle cx="459.50" cy="406.80" r="1.0" fill="#00008b" fill-opacity="0.3" stroke="#00008b" stroke-width="0.45" stroke-opacity="0.55"/>
<circle cx="474.90" cy="406.90" r="1.0" fill="#00008b" fill-opacity="0.3" stroke="#00008b" stroke-width="0.45" stroke-opacity="0.55"/>
<circle cx="490.30" cy="406.50" r="1.0" fill="#00008b" fill-opacity="0.3" stroke="#00008b" stroke-width="0.45" stroke-opacity="0.55"/>
<circle cx="505.70" cy="406.10" r="1.0" fill="#00008b" fill-opacity="0.3" stroke="#00008b" stroke-width="0.45" stroke-opacity="0.55"/>
<circle cx="521.10" cy="405.60" r="1.0" fill="#00008b" fill-opacity="0.3" stroke="#00008b" stroke-width="0.45" stroke-opacity="0.55"/>
<circle cx="536.50" cy="404.90" r="1.0" fill="#00008b" fill-opacity="0.3" stroke="#00008b" stroke-width="0.45" stroke-opacity="0.55"/>
<circle cx="551.90" cy="403.30" r="1.0" fill="#00008b" fill-opacity="0.3" stroke="#00008b" stroke-width="0.45" stroke-opacity="0.55"/>
<circle cx="567.30" cy="400.60" r="1.0" fill="#00008b" fill-opacity="0.3" stroke="#00008b" stroke-width="0.45" stroke-opacity="0.55"/>
<circle cx="582.70" cy="396.60" r="1.0" fill="#00008b" fill-opacity="0.3" stroke="#00008b" stroke-width="0.45" stroke-opacity="0.55"/>
<circle cx="598.10" cy="392.00" r="1.0" fill="#00008b" fill-opacity="0.3" stroke="#00008b" stroke-width="0.45" stroke-opacity="0.55"/>
<circle cx="613.50" cy="386.20" r="1.0" fill="#00008b" fill-opacity="0.3" stroke="#00008b" stroke-width="0.45" stroke-opacity="0.55"/>
<circle cx="628.90" cy="377.00" r="1.0" fill="#00008b" fill-opacity="0.3" stroke="#00008b" stroke-width="0.45" stroke-opacity="0.55"/>
<circle cx="644.30" cy="365.10" r="1.0" fill="#00008b" fill-opacity="0.3" stroke="#00008b" stroke-width="0.45" stroke-opacity="0.55"/>
<circle cx="659.70" cy="349.10" r="1.0" fill="#00008b" fill-opacity="0.3" stroke="#00008b" stroke-width="0.45" stroke-opacity="0.55"/>
<circle cx="675.10" cy="330.50" r="1.0" fill="#00008b" fill-opacity="0.3" stroke="#00008b" stroke-width="0.45" stroke-opacity="0.55"/>
<text x="370.1" y="410.69" class="s" font-size="4.7" fill="#444444" text-anchor="end">0</text>
<text x="370.1" y="376.39" class="s" font-size="4.7" fill="#444444" text-anchor="end">20</text>
<text x="370.1" y="342.09" class="s" font-size="4.7" fill="#444444" text-anchor="end">40</text>
<text x="370.1" y="307.79" class="s" font-size="4.7" fill="#444444" text-anchor="end">60</text>
<text transform="translate(383.00,419.7) rotate(-45)" class="s" font-size="5.0" fill="#444444" text-anchor="end" dominant-baseline="hanging">0_4</text>
<text transform="translate(398.40,419.7) rotate(-45)" class="s" font-size="5.0" fill="#444444" text-anchor="end" dominant-baseline="hanging">5_9</text>
<text transform="translate(413.80,419.7) rotate(-45)" class="s" font-size="5.0" fill="#444444" text-anchor="end" dominant-baseline="hanging">10_14</text>
<text transform="translate(429.20,419.7) rotate(-45)" class="s" font-size="5.0" fill="#444444" text-anchor="end" dominant-baseline="hanging">15_19</text>
<text transform="translate(444.60,419.7) rotate(-45)" class="s" font-size="5.0" fill="#444444" text-anchor="end" dominant-baseline="hanging">20_24</text>
<text transform="translate(460.00,419.7) rotate(-45)" class="s" font-size="5.0" fill="#444444" text-anchor="end" dominant-baseline="hanging">25_29</text>
<text transform="translate(475.40,419.7) rotate(-45)" class="s" font-size="5.0" fill="#444444" text-anchor="end" dominant-baseline="hanging">30_34</text>
<text transform="translate(490.80,419.7) rotate(-45)" class="s" font-size="5.0" fill="#444444" text-anchor="end" dominant-baseline="hanging">35_39</text>
<text transform="translate(506.20,419.7) rotate(-45)" class="s" font-size="5.0" fill="#444444" text-anchor="end" dominant-baseline="hanging">40_44</text>
<text transform="translate(521.60,419.7) rotate(-45)" class="s" font-size="5.0" fill="#444444" text-anchor="end" dominant-baseline="hanging">45_49</text>
<text transform="translate(537.00,419.7) rotate(-45)" class="s" font-size="5.0" fill="#444444" text-anchor="end" dominant-baseline="hanging">50_54</text>
<text transform="translate(552.40,419.7) rotate(-45)" class="s" font-size="5.0" fill="#444444" text-anchor="end" dominant-baseline="hanging">55_59</text>
<text transform="translate(567.80,419.7) rotate(-45)" class="s" font-size="5.0" fill="#444444" text-anchor="end" dominant-baseline="hanging">60_64</text>
<text transform="translate(583.20,419.7) rotate(-45)" class="s" font-size="5.0" fill="#444444" text-anchor="end" dominant-baseline="hanging">65_69</text>
<text transform="translate(598.60,419.7) rotate(-45)" class="s" font-size="5.0" fill="#444444" text-anchor="end" dominant-baseline="hanging">70_74</text>
<text transform="translate(614.00,419.7) rotate(-45)" class="s" font-size="5.0" fill="#444444" text-anchor="end" dominant-baseline="hanging">75_79</text>
<text transform="translate(629.40,419.7) rotate(-45)" class="s" font-size="5.0" fill="#444444" text-anchor="end" dominant-baseline="hanging">80_84</text>
<text transform="translate(644.80,419.7) rotate(-45)" class="s" font-size="5.0" fill="#444444" text-anchor="end" dominant-baseline="hanging">85_89</text>
<text transform="translate(660.20,419.7) rotate(-45)" class="s" font-size="5.0" fill="#444444" text-anchor="end" dominant-baseline="hanging">90_94</text>
<text transform="translate(675.60,419.7) rotate(-45)" class="s" font-size="5.0" fill="#444444" text-anchor="end" dominant-baseline="hanging">95+</text>
<text transform="translate(361.8,343.7) rotate(-90)" class="t" font-size="5.65" fill="#0a0a0a" text-anchor="middle">Death Rate (per 100,000 Population)</text>
<text x="528.5" y="438" class="t" font-size="5.6" fill="#0a0a0a" text-anchor="middle">Age Group</text>
<text x="493.2" y="259.68" font-size="5.8" fill="#0a0a0a">sex</text>
<line x1="506.2" x2="515.2" y1="257.3" y2="257.3" stroke="#ff0000" stroke-width="1.1"/>
<circle cx="510.7" cy="257.3" r="0.9" fill="#ff0000"/>
<text x="519.8" y="259.48" font-size="4.95" fill="#0a0a0a">Female</text>
<line x1="540.6" x2="549.6" y1="257.3" y2="257.3" stroke="#00008b" stroke-width="1.1"/>
<circle cx="545.1" cy="257.3" r="0.9" fill="#00008b"/>
<text x="553.9" y="259.48" font-size="4.95" fill="#0a0a0a">Male</text>
</svg>
</body></html>
